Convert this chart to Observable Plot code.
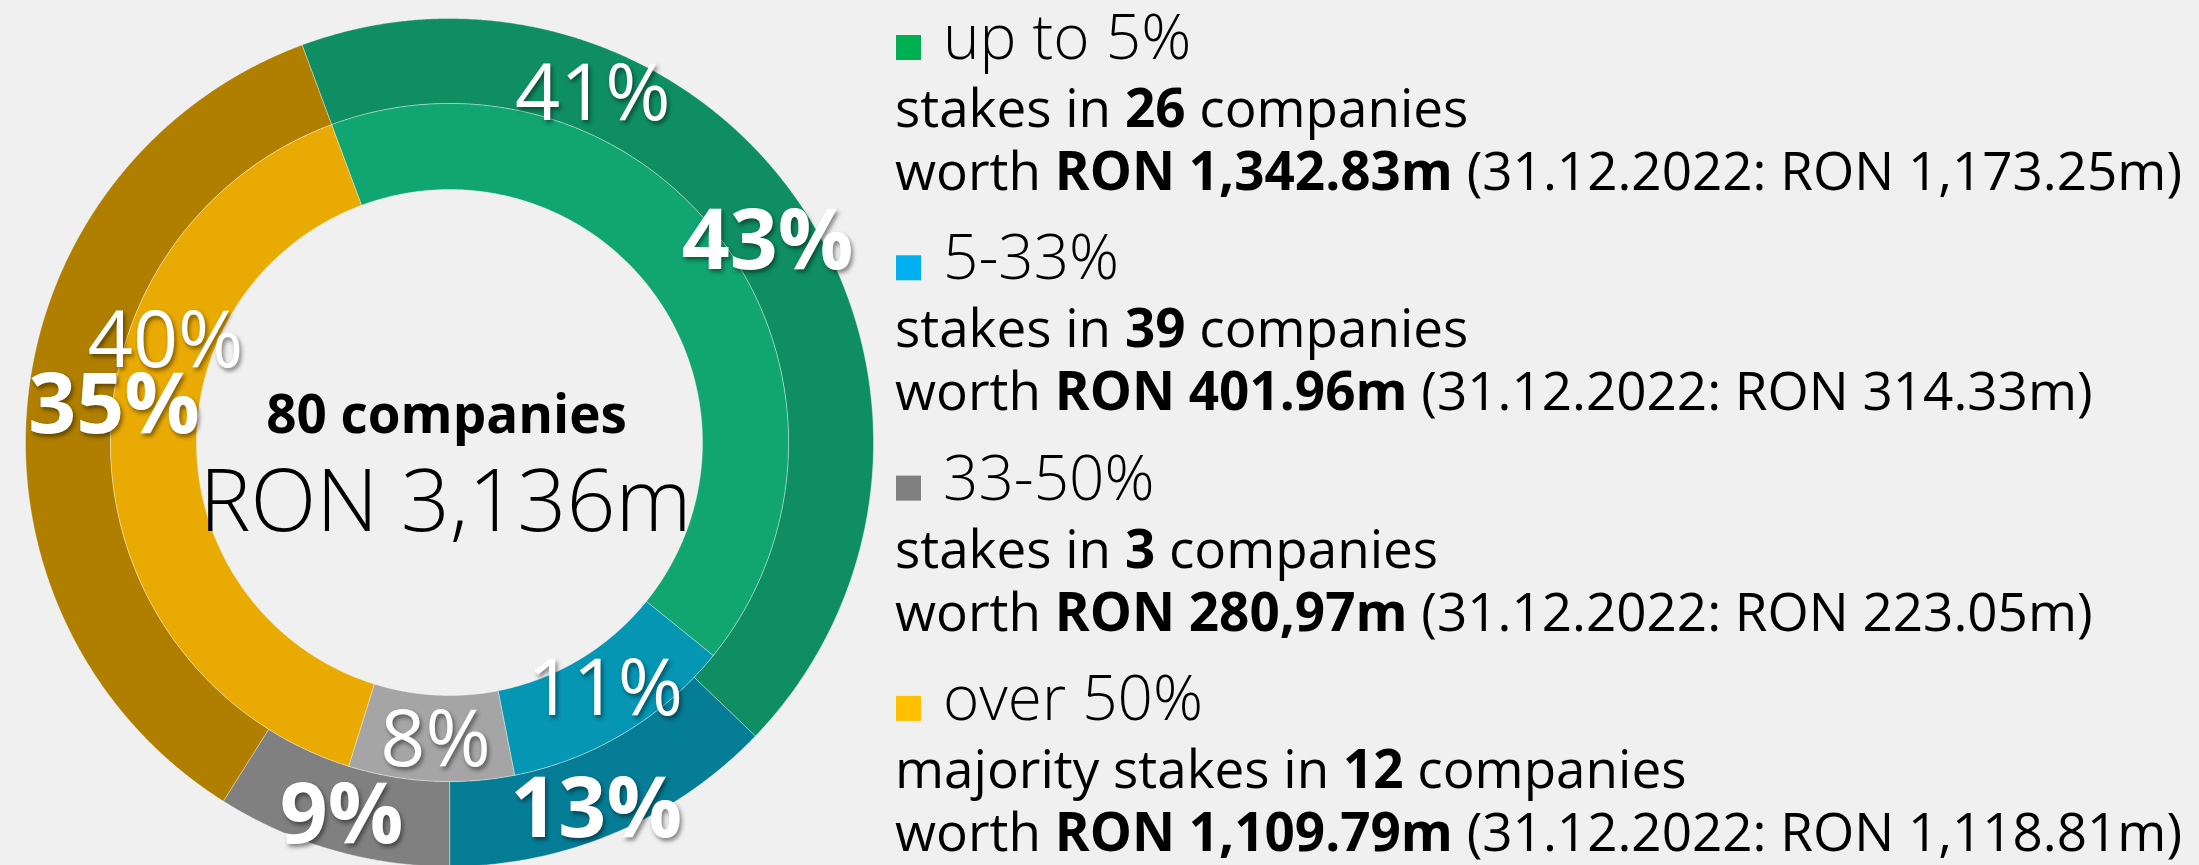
<!DOCTYPE html>
<html><head><meta charset="utf-8">
<script src="https://cdn.jsdelivr.net/npm/d3@7"></script>
<script src="https://cdn.jsdelivr.net/npm/@observablehq/plot@0.6"></script>
<style>
html,body{margin:0;padding:0;background:#f0f0f0;overflow:hidden;}
#wrap{position:relative;width:2199px;height:865px;font-family:"Open Sans",sans-serif;}
#chart{position:absolute;left:0;top:0;}
#legend{position:absolute;left:0;top:0;}
#legend text{white-space:pre;}
#chart g[fill="white"] text{filter:drop-shadow(2px 3px 2px rgba(0,0,0,0.45));}
</style></head><body>
<div id="wrap"><div id="chart"></div><svg id="legend" width="2199" height="865"></svg></div>
<script>
// ---- data ----
const categories = ["up to 5%", "5-33%", "33-50%", "over 50%"];
const companies = [26, 39, 3, 12];
const value2023 = [1342.83, 401.96, 280.97, 1109.79];   // outer ring (RON m)
const value2022 = [1173.25, 314.33, 223.05, 1118.81];   // inner ring (RON m)
const value2023Text = ["1,342.83", "401.96", "280,97", "1,109.79"];
const value2022Text = ["1,173.25", "314.33", "223.05", "1,118.81"];
const stakePrefix = ["stakes in ", "stakes in ", "stakes in ", "majority stakes in "];
const compareDate = "31.12.2022";

// ---- styles ----
const outerColors = ["#0e8e62", "#067d96", "#808080", "#b07f00"];
const innerColors = ["#10a571", "#0596b3", "#a5a5a5", "#eaaa04"];
const legendColors = ["#00b050", "#00b0f0", "#808080", "#ffc000"];

// ---- layout (pixels) ----
const W = 900, H = 865, CX = 449, CY = 442, R = 424;
const outerR = [339, 424], innerR = [253, 339];
const startDeg = -20.35;
// label nudges from slice centroid, in pixels (dx, dy)
const outerNudge = [[-1, 9], [-3, 17], [-2, 7], [44, 3]];
const innerNudge = [[-97, -175], [3, -6], [2, 3], [12, -109]];

function ring(values, radii, colors, nudges, ringName) {
  const total = d3.sum(values);
  const r0 = radii[0] / R, r1 = radii[1] / R, rm = (r0 + r1) / 2;
  let a = startDeg;
  const polys = [], labels = [];
  values.forEach((v, i) => {
    const span = v / total * 360;
    const n = Math.max(2, Math.ceil(span / 0.25));
    const key = ringName + i;
    const pts = [];
    for (let k = 0; k <= n; k++) {
      const t = (a + span * k / n) * Math.PI / 180;
      pts.push({key, color: colors[i], x: r1 * Math.sin(t), y: r1 * Math.cos(t)});
    }
    for (let k = n; k >= 0; k--) {
      const t = (a + span * k / n) * Math.PI / 180;
      pts.push({key, color: colors[i], x: r0 * Math.sin(t), y: r0 * Math.cos(t)});
    }
    pts.push(pts[0]);
    polys.push(...pts);
    const m = (a + span / 2) * Math.PI / 180;
    labels.push({
      x: rm * Math.sin(m) + nudges[i][0] / R,
      y: rm * Math.cos(m) - nudges[i][1] / R,
      text: Math.round(v / total * 100) + "%"
    });
    a += span;
  });
  return {polys, labels};
}

const outer = ring(value2023, outerR, outerColors, outerNudge, "o");
const inner = ring(value2022, innerR, innerColors, innerNudge, "i");
const totalCompanies = d3.sum(companies);
const totalValue = d3.sum(value2023);

const chart = Plot.plot({
  width: W, height: H, margin: 0,
  x: {domain: [-CX / R, (W - CX) / R], range: [0, W], axis: null},
  y: {domain: [-(H - CY) / R, CY / R], range: [H, 0], axis: null},
  color: {type: "identity"},
  style: {background: "transparent", overflow: "visible", fontFamily: "Open Sans"},
  marks: [
    Plot.line(outer.polys, {x: "x", y: "y", z: "key", fill: "color", stroke: "#ffffff", strokeOpacity: 0.35, strokeWidth: 1, curve: "linear"}),
    Plot.line(inner.polys, {x: "x", y: "y", z: "key", fill: "color", stroke: "#ffffff", strokeOpacity: 0.35, strokeWidth: 1, curve: "linear"}),
    Plot.text(inner.labels, {x: "x", y: "y", text: "text", fill: "white", fontSize: 79, fontWeight: 400, fontFamily: "Open Sans"}),
    Plot.text(outer.labels, {x: "x", y: "y", text: "text", fill: "white", fontSize: 84, fontWeight: 700, fontFamily: "Open Sans"}),
    Plot.text([totalCompanies + " companies"], {frameAnchor: "middle", dx: -4, dy: -17, fill: "black", fontSize: 53, fontWeight: 700, fontFamily: "Open Sans"}),
    Plot.text(["RON " + d3.format(",.0f")(totalValue) + "m"], {frameAnchor: "middle", dx: -5, dy: 70, fill: "black", fontSize: 86, fontWeight: 300, fontFamily: "Open Sans"})
  ]
});
document.getElementById("chart").appendChild(chart);

// ---- legend ----
const lg = d3.select("#legend").attr("font-family", "Open Sans").attr("fill", "#000");
categories.forEach((c, i) => {
  const b = 59 + 220.3 * i;
  lg.append("rect").attr("x", 896).attr("y", b - 24).attr("width", 25).attr("height", 25).attr("fill", legendColors[i]);
  lg.append("text").attr("x", 943).attr("y", b).attr("font-size", 62).attr("font-weight", 300).text(c);
  const t2 = lg.append("text").attr("x", 895).attr("y", b + 68).attr("font-size", 53);
  t2.append("tspan").text(stakePrefix[i]);
  t2.append("tspan").attr("font-weight", 700).text(companies[i]);
  t2.append("tspan").text(" companies");
  const t3 = lg.append("text").attr("x", 895).attr("y", b + 131).attr("font-size", 53);
  t3.append("tspan").text("worth ");
  t3.append("tspan").attr("font-weight", 700).text("RON " + value2023Text[i] + "m");
  t3.append("tspan").text(" (" + compareDate + ": RON " + value2022Text[i] + "m)");
});
</script></body></html>
